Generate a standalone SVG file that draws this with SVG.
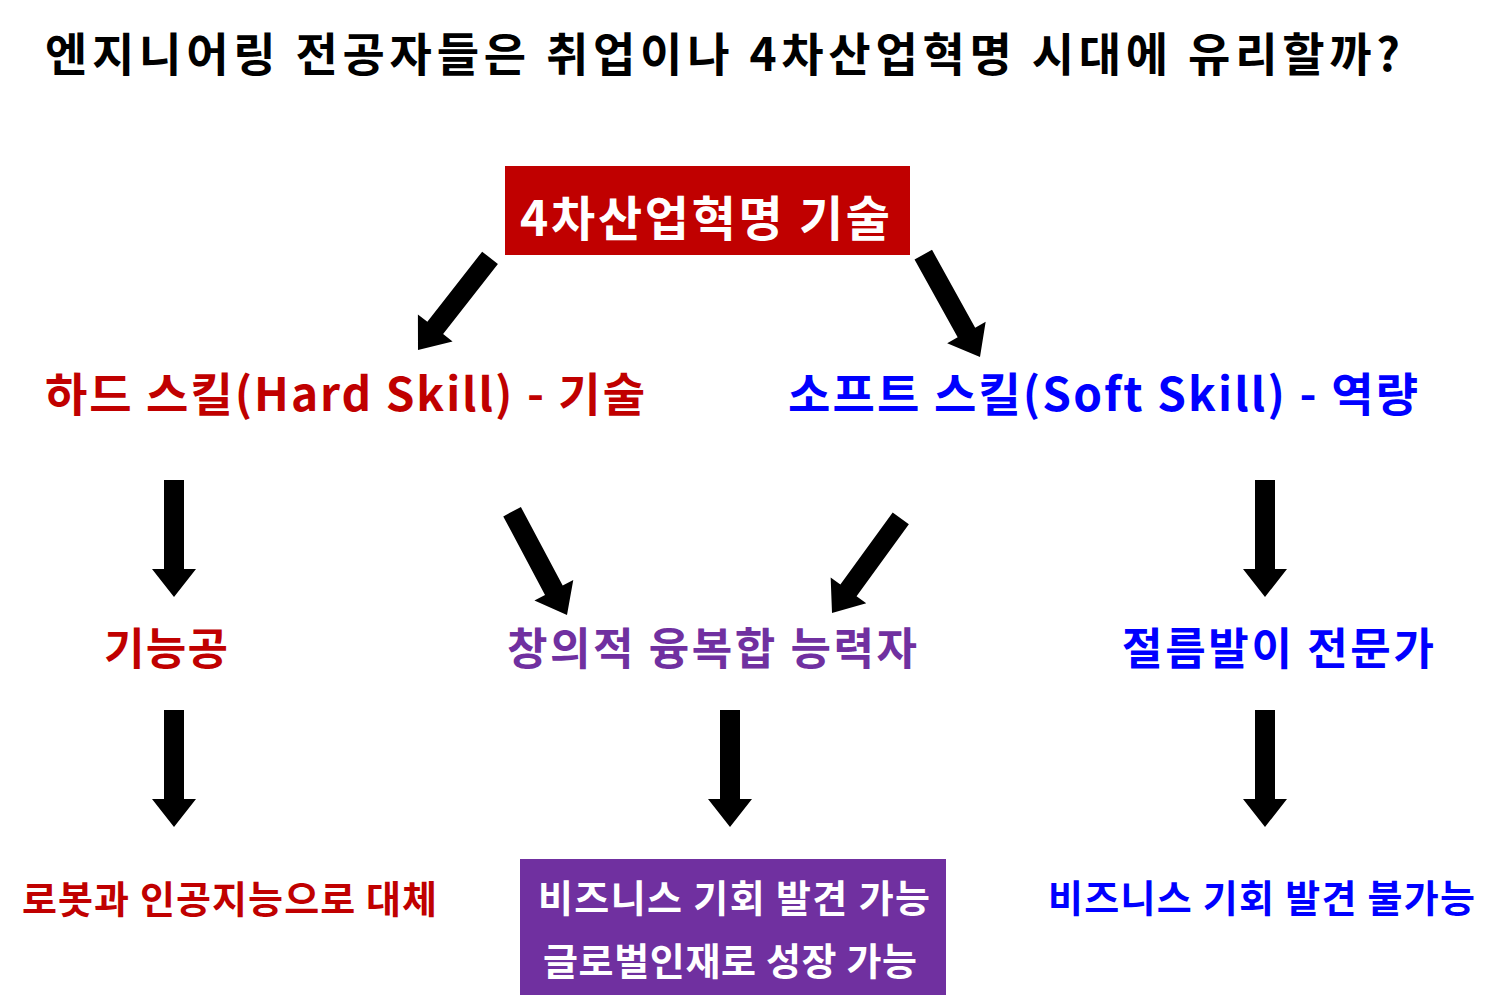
<svg xmlns="http://www.w3.org/2000/svg" xmlns:xlink="http://www.w3.org/1999/xlink" width="1499" height="1008" viewBox="0 0 1499 1008">
<style>
text{font-family:"Malgun Gothic","Noto Sans CJK KR",sans-serif;font-weight:bold}
.t{fill:#000}
.red{fill:#C00000}
.blue{fill:#0000FF}
.pur{fill:#7030A0}
.wh{fill:#FFFFFF}
.arr{fill:#000}
</style>
<defs>
<polygon id="arrow" points="-10,-117 10,-117 10,-28 22,-28 0,0 -22,-28 -10,-28 -10,-117"/>
</defs>
<rect width="1499" height="1008" fill="#fff"/>
<g id="title"><text class="t" x="45" y="71" font-size="46" textLength="1355" lengthAdjust="spacing">엔지니어링 전공자들은 취업이나 4차산업혁명 시대에 유리할까?</text></g>
<g id="tech">
<rect x="505" y="166" width="405" height="89" fill="#C00000"/>
<text class="wh" x="520" y="236" font-size="48" textLength="370" lengthAdjust="spacing">4차산업혁명 기술</text>
</g>
<g id="hard"><text class="red" x="45" y="411" font-size="46" textLength="600" lengthAdjust="spacing">하드 스킬(Hard Skill) - 기술</text></g>
<g id="soft"><text class="blue" x="788" y="411" font-size="46" textLength="630" lengthAdjust="spacing">소프트 스킬(Soft Skill) - 역량</text></g>
<g id="craft"><text class="red" x="104" y="665" font-size="44" textLength="124" lengthAdjust="spacing">기능공</text></g>
<g id="creative"><text class="pur" x="507" y="665" font-size="44" textLength="410" lengthAdjust="spacing">창의적 융복합 능력자</text></g>
<g id="lame"><text class="blue" x="1122" y="665" font-size="44" textLength="312" lengthAdjust="spacing">절름발이 전문가</text></g>
<g id="replace"><text class="red" x="22" y="913" font-size="38" textLength="415" lengthAdjust="spacing">로봇과 인공지능으로 대체</text></g>
<g id="global">
<rect x="520" y="859" width="426" height="136" fill="#7030A0"/>
<text class="wh" x="538" y="912" font-size="38" textLength="392" lengthAdjust="spacing">비즈니스 기회 발견 가능</text>
<text class="wh" x="543" y="975" font-size="38" textLength="374" lengthAdjust="spacing">글로벌인재로 성장 가능</text>
</g>
<g id="noopp"><text class="blue" x="1048" y="912" font-size="38" textLength="427" lengthAdjust="spacing">비즈니스 기회 발견 불가능</text></g>
<g id="connectors" class="arr">
<use xlink:href="#arrow" transform="translate(418,350) rotate(38)"/>
<use xlink:href="#arrow" transform="translate(980,357) rotate(-29)"/>
<use xlink:href="#arrow" transform="translate(174,597)"/>
<use xlink:href="#arrow" transform="translate(567,615) rotate(-28)"/>
<use xlink:href="#arrow" transform="translate(832,613) rotate(36)"/>
<use xlink:href="#arrow" transform="translate(1265,597)"/>
<use xlink:href="#arrow" transform="translate(174,827)"/>
<use xlink:href="#arrow" transform="translate(730,827)"/>
<use xlink:href="#arrow" transform="translate(1265,827)"/>
</g>
</svg>
